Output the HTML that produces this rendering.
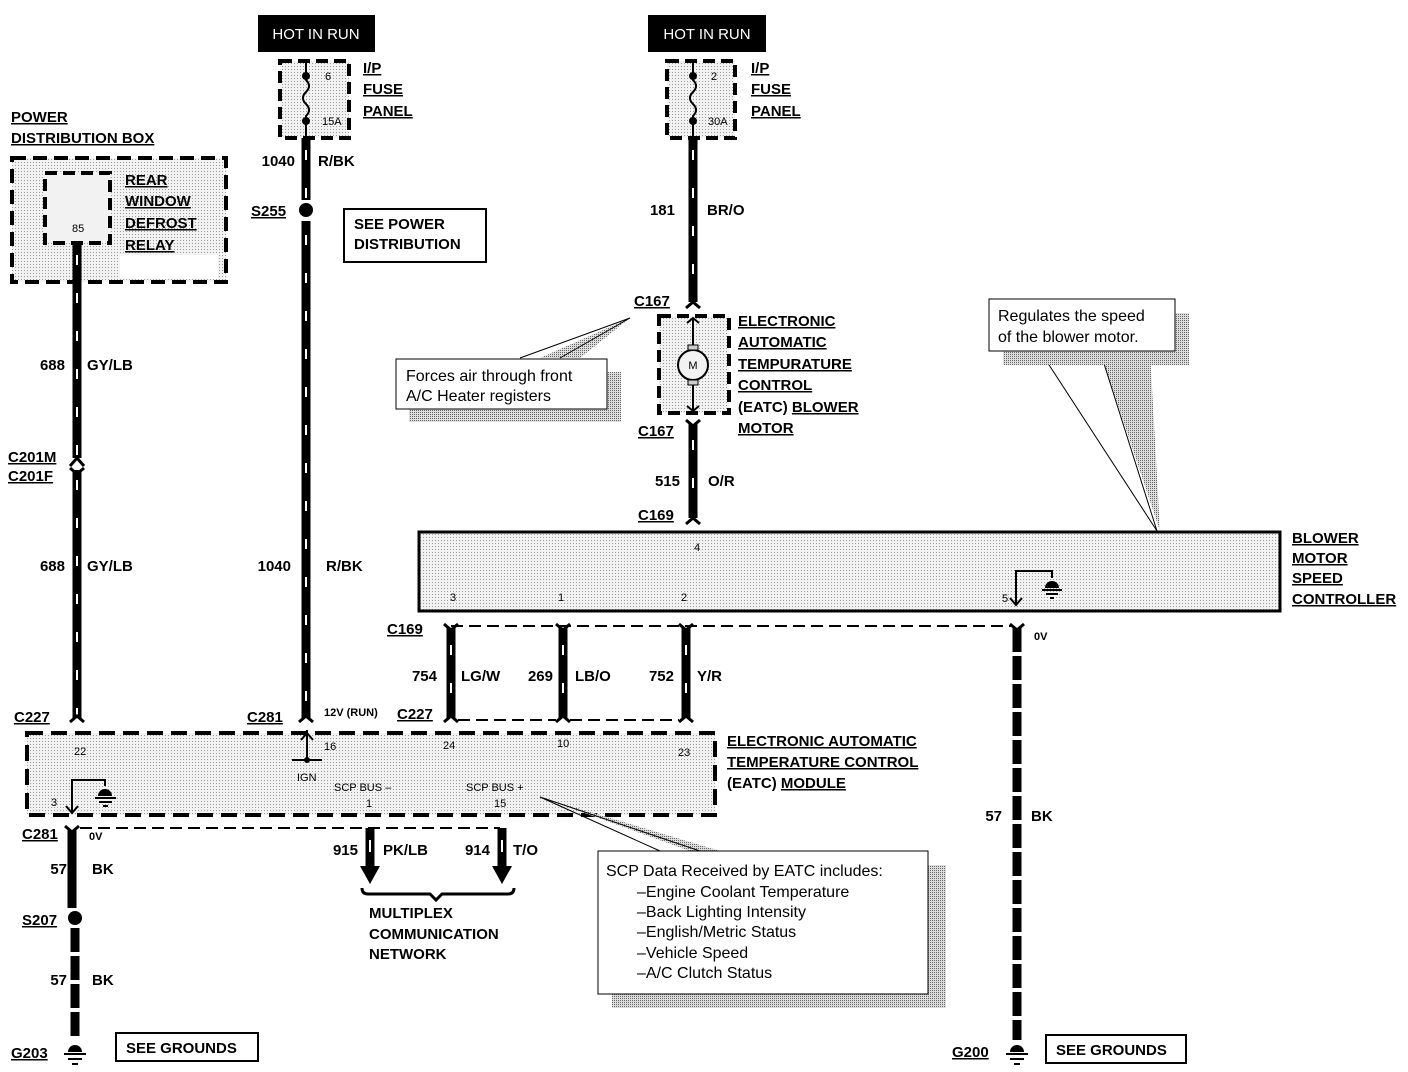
<!DOCTYPE html>
<html><head><meta charset="utf-8"><style>
html,body{margin:0;padding:0;background:#fff}
svg{display:block}
text{font-family:"Liberation Sans",Arial,sans-serif;fill:#000}
.b{font-weight:bold;font-size:15px}
.u{text-decoration:underline}
.s{font-size:11px}
.c{font-size:16px}
.st{stroke:#fff;stroke-width:2;stroke-dasharray:10,28;fill:none}
</style></head><body>
<svg width="1408" height="1072" viewBox="0 0 1408 1072" xmlns="http://www.w3.org/2000/svg">
<defs>
<pattern id="dot" width="3" height="3" patternUnits="userSpaceOnUse"><rect width="3" height="3" fill="#f2f2f2"/><rect width="1" height="1" fill="#999"/></pattern>
<pattern id="sh" width="2" height="2" patternUnits="userSpaceOnUse"><rect width="2" height="2" fill="#ddd"/><rect width="1" height="1" fill="#666"/></pattern>
</defs>
<rect width="1408" height="1072" fill="#fff"/>

<!-- HOT IN RUN -->
<rect x="258" y="15" width="117" height="37" fill="#000"/>
<text x="316" y="39" text-anchor="middle" style="fill:#fff;font-size:15px">HOT IN RUN</text>
<rect x="648" y="15" width="118" height="37" fill="#000"/>
<text x="707" y="39" text-anchor="middle" style="fill:#fff;font-size:15px">HOT IN RUN</text>

<!-- fuse boxes -->
<g stroke="#000" stroke-width="4" stroke-dasharray="12,6" fill="url(#dot)">
<rect x="280" y="61" width="69" height="77"/>
<rect x="667" y="61" width="68" height="77"/>
</g>
<g stroke="#000" stroke-width="2" fill="none">
<path d="M306 61 V80 q6 6 0 12 q-6 6 0 12 q6 6 0 12 V138"/>
<path d="M693 61 V80 q6 6 0 12 q-6 6 0 12 q6 6 0 12 V138"/>
</g>
<circle cx="306" cy="76" r="4"/><circle cx="306" cy="121" r="4"/>
<circle cx="693" cy="76" r="4"/><circle cx="693" cy="121" r="4"/>
<text x="325" y="80" class="s">6</text><text x="322" y="125" class="s">15A</text>
<text x="711" y="80" class="s">2</text><text x="708" y="125" class="s">30A</text>
<text x="363" y="73" class="b u">I/P</text><text x="363" y="94" class="b u">FUSE</text><text x="363" y="116" class="b u">PANEL</text>
<text x="751" y="73" class="b u">I/P</text><text x="751" y="94" class="b u">FUSE</text><text x="751" y="116" class="b u">PANEL</text>

<!-- PDB -->
<text x="11" y="122" class="b u">POWER</text>
<text x="11" y="143" class="b u">DISTRIBUTION BOX</text>
<rect x="12" y="158" width="214" height="124" fill="url(#dot)" stroke="#000" stroke-width="4" stroke-dasharray="14,7"/>
<rect x="45" y="173" width="65" height="70" fill="#f2f2f2" stroke="#000" stroke-width="4" stroke-dasharray="12,6"/>
<text x="72" y="232" class="s">85</text>
<rect x="120" y="255" width="98" height="24" fill="#fff"/>
<text x="125" y="185" class="b u">REAR</text><text x="125" y="206" class="b u">WINDOW</text><text x="125" y="228" class="b u">DEFROST</text><text x="125" y="250" class="b u">RELAY</text>

<!-- wire 77 -->
<line x1="77" y1="243" x2="77" y2="458" stroke="#000" stroke-width="9"/>
<line x1="77" y1="470" x2="77" y2="718" stroke="#000" stroke-width="9"/>
<line x1="77" y1="255" x2="77" y2="455" class="st"/><line x1="77" y1="480" x2="77" y2="715" class="st"/>
<path d="M70 466 l7 -8 l7 8" fill="none" stroke="#000" stroke-width="3"/>
<path d="M70 468 l7 6 l7 -6" fill="none" stroke="#000" stroke-width="3"/>
<text x="65" y="370" class="b" text-anchor="end">688</text><text x="87" y="370" class="b">GY/LB</text>
<text x="8" y="462" class="b u">C201M</text><text x="8" y="481" class="b u">C201F</text>
<text x="65" y="571" class="b" text-anchor="end">688</text><text x="87" y="571" class="b">GY/LB</text>
<path d="M70 722 l7 -6 l7 6" fill="none" stroke="#000" stroke-width="3"/>
<text x="14" y="722" class="b u">C227</text>

<!-- wire 306 -->
<line x1="306" y1="138" x2="306" y2="200" stroke="#000" stroke-width="9"/>
<circle cx="306" cy="210" r="7"/>
<line x1="306" y1="221" x2="306" y2="718" stroke="#000" stroke-width="9"/>
<line x1="306" y1="150" x2="306" y2="198" class="st"/><line x1="306" y1="235" x2="306" y2="715" class="st"/>
<text x="295" y="166" class="b" text-anchor="end">1040</text><text x="318" y="166" class="b">R/BK</text>
<text x="251" y="216" class="b u">S255</text>
<rect x="344" y="209" width="142" height="53" fill="#fff" stroke="#000" stroke-width="2"/>
<text x="354" y="229" class="b">SEE POWER</text><text x="354" y="249" class="b">DISTRIBUTION</text>
<text x="291" y="571" class="b" text-anchor="end">1040</text><text x="326" y="571" class="b">R/BK</text>
<path d="M299 722 l7 -6 l7 6" fill="none" stroke="#000" stroke-width="3"/>
<text x="247" y="722" class="b u">C281</text>
<text x="324" y="716" style="font-size:11px;font-weight:bold">12V (RUN)</text>

<!-- wire 693 -->
<line x1="693" y1="138" x2="693" y2="302" stroke="#000" stroke-width="9"/>
<line x1="693" y1="150" x2="693" y2="298" class="st"/>
<path d="M686 308 l7 -6 l7 6" fill="none" stroke="#000" stroke-width="3"/>
<text x="675" y="215" class="b" text-anchor="end">181</text><text x="707" y="215" class="b">BR/O</text>
<text x="634" y="306" class="b u">C167</text>
<rect x="659" y="316" width="70" height="97" fill="url(#dot)" stroke="#000" stroke-width="4" stroke-dasharray="12,6"/>
<line x1="693" y1="318" x2="693" y2="411" stroke="#000" stroke-width="2"/>
<circle cx="693" cy="365" r="15" fill="#f2f2f2" stroke="#000" stroke-width="2"/>
<rect x="688" y="345" width="10" height="5" fill="#ccc" stroke="#000"/>
<rect x="688" y="380" width="10" height="5" fill="#ccc" stroke="#000"/>
<text x="693" y="369" class="s" text-anchor="middle">M</text>
<path d="M687 323 l6 -5 l6 5 M687 406 l6 5 l6 -5" fill="none" stroke="#000" stroke-width="2"/>
<line x1="693" y1="424" x2="693" y2="518" stroke="#000" stroke-width="9"/>
<line x1="693" y1="440" x2="693" y2="512" class="st"/>
<path d="M686 420 l7 6 l7 -6 M686 524 l7 -6 l7 6" fill="none" stroke="#000" stroke-width="3"/>
<text x="638" y="436" class="b u">C167</text>
<text x="680" y="486" class="b" text-anchor="end">515</text><text x="708" y="486" class="b">O/R</text>
<text x="638" y="520" class="b u">C169</text>
<text x="738" y="326" class="b u">ELECTRONIC</text><text x="738" y="347" class="b u">AUTOMATIC</text><text x="738" y="369" class="b u">TEMPURATURE</text><text x="738" y="390" class="b u">CONTROL</text><text x="738" y="412" class="b">(EATC) <tspan class="u">BLOWER</tspan></text><text x="738" y="433" class="b u">MOTOR</text>

<!-- Forces air callout -->
<polygon points="630,318 540,358 580,358" fill="url(#sh)"/>
<line x1="630" y1="318" x2="560" y2="358" stroke="#000"/>
<line x1="630" y1="318" x2="520" y2="358" stroke="#000"/>
<rect x="409" y="372" width="212" height="50" fill="url(#sh)"/>
<rect x="396" y="359" width="211" height="50" fill="#fff" stroke="#000"/>
<text x="406" y="381" class="c">Forces air through front</text><text x="406" y="401" class="c">A/C Heater registers</text>

<!-- Regulates callout -->
<polygon points="1100,351 1160,531 1150,351" fill="url(#sh)"/>
<line x1="1040" y1="351" x2="1157" y2="531" stroke="#000"/>
<line x1="1100" y1="351" x2="1157" y2="531" stroke="#000"/>
<rect x="1003" y="313" width="186" height="52" fill="url(#sh)"/>
<rect x="989" y="299" width="186" height="52" fill="#fff" stroke="#000"/>
<text x="998" y="321" class="c">Regulates the speed</text><text x="998" y="342" class="c">of the blower motor.</text>

<!-- BMSC -->
<rect x="419" y="532" width="861" height="79" fill="url(#dot)" stroke="#000" stroke-width="3"/>
<text x="697" y="551" class="s" text-anchor="middle">4</text>
<text x="453" y="601" class="s" text-anchor="middle">3</text><text x="561" y="601" class="s" text-anchor="middle">1</text><text x="684" y="601" class="s" text-anchor="middle">2</text>
<text x="1002" y="602" class="s">5</text>
<path d="M1016 604 V571 H1052 V578" fill="none" stroke="#000" stroke-width="2"/>
<path d="M1010 598 l6 7 l6 -7" fill="none" stroke="#000" stroke-width="2"/>
<path d="M1045 588 a7 7 0 0 1 14 0 Z"/><line x1="1042" y1="590" x2="1062" y2="590" stroke="#000" stroke-width="2"/><line x1="1046" y1="594" x2="1058" y2="594" stroke="#000" stroke-width="2"/><line x1="1050" y1="598" x2="1054" y2="598" stroke="#000" stroke-width="2"/>
<text x="1292" y="543" class="b u">BLOWER</text><text x="1292" y="563" class="b u">MOTOR</text><text x="1292" y="583" class="b u">SPEED</text><text x="1292" y="604" class="b u">CONTROLLER</text>

<!-- C169 dashed line & wires -->
<line x1="451" y1="626" x2="1012" y2="626" stroke="#000" stroke-width="2" stroke-dasharray="12,6"/>
<text x="387" y="634" class="b u">C169</text>
<g stroke="#000" stroke-width="9">
<line x1="451" y1="628" x2="451" y2="718"/><line x1="563" y1="628" x2="563" y2="718"/><line x1="686" y1="628" x2="686" y2="718"/>
</g>
<line x1="451" y1="645" x2="451" y2="712" class="st"/><line x1="563" y1="645" x2="563" y2="712" class="st"/><line x1="686" y1="645" x2="686" y2="712" class="st"/>
<g fill="none" stroke="#000" stroke-width="3">
<path d="M444 624 l7 6 l7 -6 M556 624 l7 6 l7 -6 M679 624 l7 6 l7 -6"/>
<path d="M444 722 l7 -6 l7 6 M556 722 l7 -6 l7 6 M679 722 l7 -6 l7 6"/>
</g>
<line x1="458" y1="720" x2="556" y2="720" stroke="#000" stroke-width="2" stroke-dasharray="12,6"/>
<line x1="570" y1="720" x2="679" y2="720" stroke="#000" stroke-width="2" stroke-dasharray="12,6"/>
<text x="437" y="681" class="b" text-anchor="end">754</text><text x="461" y="681" class="b">LG/W</text>
<text x="553" y="681" class="b" text-anchor="end">269</text><text x="575" y="681" class="b">LB/O</text>
<text x="674" y="681" class="b" text-anchor="end">752</text><text x="697" y="681" class="b">Y/R</text>
<text x="397" y="719" class="b u">C227</text>

<!-- right ground wire -->
<path d="M1010 624 l7 6 l7 -6" fill="none" stroke="#000" stroke-width="3"/>
<line x1="1017" y1="628" x2="1017" y2="1040" stroke="#000" stroke-width="9" stroke-dasharray="24,4"/>
<text x="1034" y="640" style="font-size:11px;font-weight:bold">0V</text>
<text x="1002" y="821" class="b" text-anchor="end">57</text><text x="1031" y="821" class="b">BK</text>
<path d="M1010 1052 a7 7 0 0 1 14 0 Z"/><line x1="1006" y1="1054" x2="1028" y2="1054" stroke="#000" stroke-width="2"/><line x1="1010" y1="1059" x2="1024" y2="1059" stroke="#000" stroke-width="2"/><line x1="1014" y1="1064" x2="1020" y2="1064" stroke="#000" stroke-width="2"/>
<text x="952" y="1057" class="b u">G200</text>
<rect x="1046" y="1035" width="140" height="28" fill="#fff" stroke="#000" stroke-width="2"/>
<text x="1056" y="1055" class="b">SEE GROUNDS</text>

<!-- EATC module -->
<rect x="27" y="733" width="688" height="82" fill="url(#dot)" stroke="#000" stroke-width="4" stroke-dasharray="16,8"/>
<text x="74" y="755" class="s">22</text><text x="324" y="750" class="s">16</text><text x="443" y="749" class="s">24</text><text x="557" y="747" class="s">10</text><text x="678" y="756" class="s">23</text>
<line x1="307" y1="730" x2="307" y2="760" stroke="#000" stroke-width="2"/>
<path d="M301 740 l6 -7 l6 7" fill="none" stroke="#000" stroke-width="2"/>
<line x1="292" y1="760" x2="322" y2="760" stroke="#000" stroke-width="2"/><circle cx="307" cy="760" r="3"/>
<text x="297" y="781" class="s">IGN</text>
<text x="334" y="791" class="s">SCP BUS –</text><text x="366" y="807" class="s">1</text>
<text x="466" y="791" class="s">SCP BUS +</text><text x="494" y="807" class="s">15</text>
<text x="51" y="806" class="s">3</text>
<path d="M72 812 V780 H105 V786" fill="none" stroke="#000" stroke-width="2"/>
<path d="M66 806 l6 7 l6 -7" fill="none" stroke="#000" stroke-width="2"/>
<path d="M98 796 a7 7 0 0 1 14 0 Z"/><line x1="95" y1="798" x2="116" y2="798" stroke="#000" stroke-width="2"/><line x1="99" y1="802" x2="112" y2="802" stroke="#000" stroke-width="2"/><line x1="103" y1="806" x2="108" y2="806" stroke="#000" stroke-width="2"/>
<text x="727" y="746" class="b u">ELECTRONIC AUTOMATIC</text><text x="727" y="767" class="b u">TEMPERATURE CONTROL</text><text x="727" y="788" class="b">(EATC) <tspan class="u">MODULE</tspan></text>

<!-- below module -->
<line x1="80" y1="828" x2="500" y2="828" stroke="#000" stroke-width="2" stroke-dasharray="12,6"/>
<path d="M65 826 l7 6 l7 -6" fill="none" stroke="#000" stroke-width="3"/>
<line x1="72" y1="830" x2="72" y2="908" stroke="#000" stroke-width="9"/>
<circle cx="75" cy="918" r="7"/>
<line x1="75" y1="928" x2="75" y2="1040" stroke="#000" stroke-width="9" stroke-dasharray="24,4"/>
<text x="22" y="839" class="b u">C281</text><text x="89" y="840" style="font-size:11px;font-weight:bold">0V</text>
<text x="67" y="874" class="b" text-anchor="end">57</text><text x="92" y="874" class="b">BK</text>
<text x="22" y="925" class="b u">S207</text>
<text x="67" y="985" class="b" text-anchor="end">57</text><text x="92" y="985" class="b">BK</text>
<path d="M68 1052 a7 7 0 0 1 14 0 Z"/><line x1="64" y1="1054" x2="86" y2="1054" stroke="#000" stroke-width="2"/><line x1="68" y1="1059" x2="82" y2="1059" stroke="#000" stroke-width="2"/><line x1="72" y1="1064" x2="78" y2="1064" stroke="#000" stroke-width="2"/>
<text x="11" y="1058" class="b u">G203</text>
<rect x="116" y="1033" width="142" height="28" fill="#fff" stroke="#000" stroke-width="2"/>
<text x="126" y="1053" class="b">SEE GROUNDS</text>

<!-- bus arrows -->
<line x1="370" y1="828" x2="370" y2="868" stroke="#000" stroke-width="9"/>
<polygon points="360,866 380,866 370,884"/>
<line x1="502" y1="828" x2="502" y2="868" stroke="#000" stroke-width="9"/>
<polygon points="492,866 512,866 502,884"/>
<line x1="370" y1="840" x2="370" y2="852" stroke="#fff" stroke-width="2"/>
<line x1="502" y1="840" x2="502" y2="852" stroke="#fff" stroke-width="2"/>
<text x="358" y="855" class="b" text-anchor="end">915</text><text x="383" y="855" class="b">PK/LB</text>
<text x="490" y="855" class="b" text-anchor="end">914</text><text x="513" y="855" class="b">T/O</text>
<path d="M362 888 q0 6 6 6 H430 l6 6 l6 -6 H508 q6 0 6 -6" fill="none" stroke="#000" stroke-width="3"/>
<text x="369" y="918" class="b">MULTIPLEX</text><text x="369" y="939" class="b">COMMUNICATION</text><text x="369" y="959" class="b">NETWORK</text>

<!-- SCP callout -->
<polygon points="540,797 690,851 720,851" fill="url(#sh)"/>
<line x1="540" y1="797" x2="700" y2="851" stroke="#000"/>
<line x1="540" y1="797" x2="660" y2="851" stroke="#000"/>
<rect x="612" y="865" width="334" height="143" fill="url(#sh)"/>
<rect x="598" y="851" width="330" height="143" fill="#fff" stroke="#000"/>
<text x="606" y="876" class="c">SCP Data Received by EATC includes:</text>
<text x="637" y="897" class="c">–Engine Coolant Temperature</text>
<text x="637" y="917" class="c">–Back Lighting Intensity</text>
<text x="637" y="937" class="c">–English/Metric Status</text>
<text x="637" y="958" class="c">–Vehicle Speed</text>
<text x="637" y="978" class="c">–A/C Clutch Status</text>
</svg>
</body></html>
